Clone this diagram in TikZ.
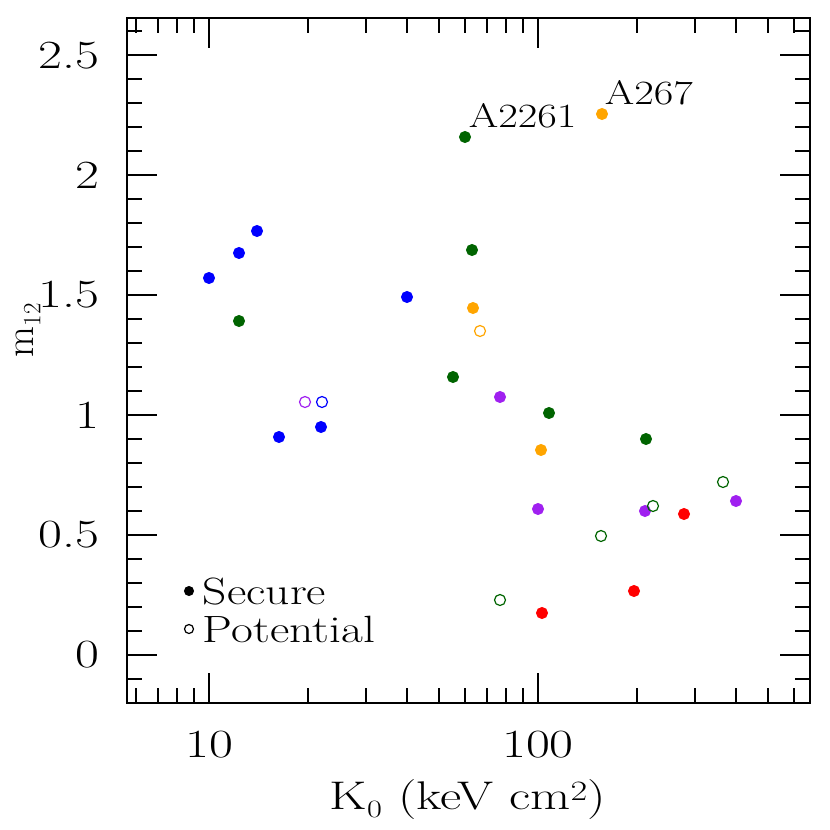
\documentclass[tikz,border=0pt]{standalone}
\usepackage{fontspec}
\definecolor{cgreen}{HTML}{006400}
\definecolor{corange}{HTML}{FFA500}
\definecolor{cpurple}{HTML}{A020F0}
\begin{document}
\begin{tikzpicture}[x=1pt,y=-1pt,line width=1.5pt,
  tick/.style={line width=1.3pt},
  lbl/.style={font=\fontsize{40}{44}\selectfont,xscale=1.3},
  leg/.style={font=\fontsize{38}{40}\selectfont,xscale=1.25,anchor=west,inner sep=0},
  fd/.style={circle,inner sep=0,minimum size=11pt,fill=#1,draw=#1,line width=1pt},
  od/.style={circle,inner sep=0,minimum size=11pt,draw=#1,line width=1.2pt}]
\useasboundingbox (0,0) rectangle (830,830);
\draw (127,18) rectangle (810,703);
% y ticks
\foreach \i in {-2,...,26}{
  \pgfmathsetmacro{\yy}{655-24*\i}
  \pgfmathtruncatemacro{\m}{mod(\i+20,5)}
  \ifnum\m=0
    \draw[tick] (127,\yy) -- (157,\yy); \draw[tick] (810,\yy) -- (780,\yy);
  \else
    \draw[tick] (127,\yy) -- (142,\yy); \draw[tick] (810,\yy) -- (795,\yy);
  \fi}
% x ticks
\foreach \v in {6,7,8,9,20,30,40,50,60,70,80,90,200,300,400,500,600}{
  \pgfmathsetmacro{\xx}{209+329*(log10(\v)-1)}
  \draw[tick] (\xx,703) -- (\xx,688); \draw[tick] (\xx,18) -- (\xx,33);}
\foreach \xx in {209,538}{
  \draw[tick] (\xx,703) -- (\xx,673); \draw[tick] (\xx,18) -- (\xx,48);}
% tick labels
\foreach \t/\yy in {0/655,0.5/535,1/415,1.5/295,2/175,2.5/56}
  \node[lbl,anchor=east,inner sep=0] (yl\yy) at (100,\yy) {\t};
\node[lbl] (x10) at (209,745) {10};
\node[lbl] (x100) at (538,745) {100};
\node[lbl] (xt) at (468,800) {K$_0$\ (keV\ cm\textsuperscript{2})};
\node[font=\fontsize{40}{44}\selectfont,rotate=90,inner sep=0] (yt) at (28,330) {m$_{12}$};
% data
\foreach \x/\y in {209/278,239/253,257/231,279/437,321/427,407/297}
  \node[fd=blue] (b\x) at (\x,\y) {};
\foreach \x/\y in {239/321,465/137,472/250,453/377,549/413,646/439}
  \node[fd=cgreen] (g\x) at (\x,\y) {};
\foreach \x/\y in {602/114,473/308,541/450}
  \node[fd=corange] (o\x) at (\x,\y) {};
\node[od=corange] (oo) at (480,331) {};
\foreach \x/\y in {500/397,538/509,645/511,736/501}
  \node[fd=cpurple] (p\x) at (\x,\y) {};
\node[od=cpurple] (po) at (305,402) {};
\node[od=blue] (bo) at (322,402) {};
\foreach \x/\y in {500/600,601/536,653/506,723/482}
  \node[od=cgreen] (go\x) at (\x,\y) {};
\foreach \x/\y in {542/613,634/591,684/514}
  \node[fd=red] (r\x) at (\x,\y) {};
% labels
\node[leg,font=\fontsize{34}{36}\selectfont] (a1) at (468,116) {A2261};
\node[leg,font=\fontsize{34}{36}\selectfont] (a2) at (604,93) {A267};
% legend
\node[fd=black,minimum size=9pt] (ls) at (189,591) {};
\node[leg] (lst) at (202,592) {Secure};
\node[od=black,minimum size=9pt] (lp) at (189,629) {};
\node[leg] (lpt) at (202,629) {Potential};
\end{tikzpicture}
\end{document}
